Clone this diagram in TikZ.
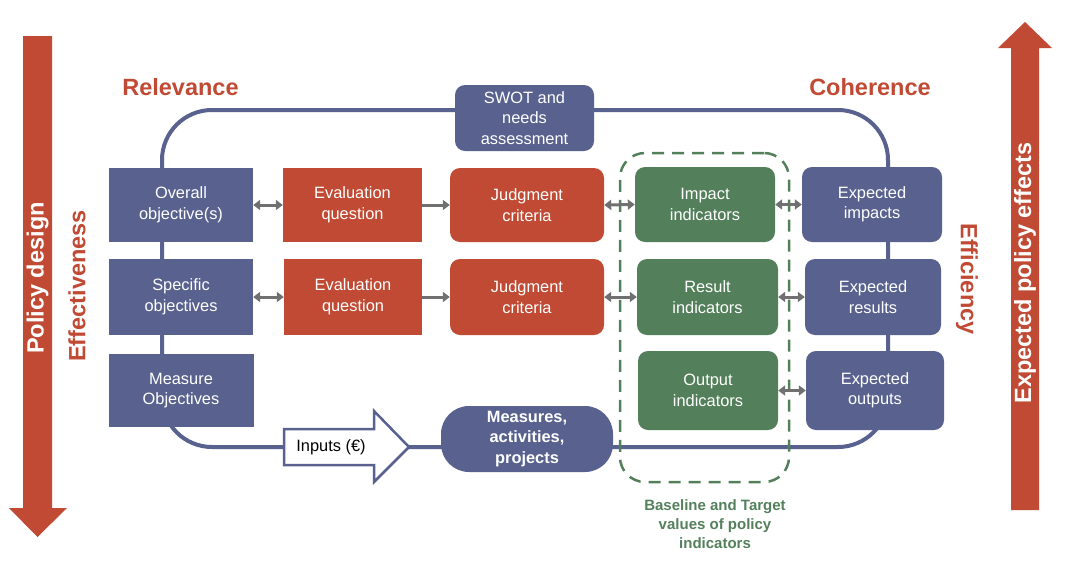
\documentclass[tikz,border=0pt]{standalone}
\usepackage{fontspec}
\setmainfont{Liberation Sans}
\usetikzlibrary{arrows.meta}
\definecolor{cblue}{HTML}{59628F}
\definecolor{cred}{HTML}{C04A33}
\definecolor{cgreen}{HTML}{53805B}
\definecolor{cgray}{HTML}{707070}
\begin{document}
\begin{tikzpicture}[x=1pt,y=-1pt,
  boxtxt/.style={text=white, align=center, inner sep=0pt, font=\fontsize{16.4}{20.5}\selectfont},
  bluesq/.style={boxtxt, fill=cblue},
  redsq/.style={boxtxt, fill=cred},
  bluer/.style={boxtxt, fill=cblue, rounded corners=10pt},
  redr/.style={boxtxt, fill=cred, rounded corners=10pt},
  greenr/.style={boxtxt, fill=cgreen, rounded corners=10pt},
  title/.style={text=cred, font=\fontsize{23.5}{28}\selectfont\bfseries, inner sep=0pt},
  bartitle/.style={text=white, font=\fontsize{23.5}{28}\selectfont\bfseries, inner sep=0pt},
  dbl/.style={draw=cgray, line width=3pt, {Triangle[length=7pt,width=10pt]}-{Triangle[length=7pt,width=10pt]}},
  sgl/.style={draw=cgray, line width=3pt, -{Triangle[length=7pt,width=10pt]}},
  loopline/.style={draw=cblue, line width=4pt, rounded corners=50pt}
]
\useasboundingbox (0,0) rectangle (1076,560);

% big arrows
\fill[cred] (23,36) -- (52,36) -- (52,508) -- (67,508) -- (37.5,537) -- (9,508) -- (23,508) -- cycle;
\fill[cred] (1011,510) -- (1039,510) -- (1039,48) -- (1052,48) -- (1025,22) -- (998,48) -- (1011,48) -- cycle;
\node[bartitle, rotate=90] (pd) at (37.5,278) {Policy design};
\node[bartitle, rotate=90] (epe) at (1025,273) {Expected policy effects};

% titles
\node[title] (rel) at (180.5,87) {Relevance};
\node[title] (coh) at (870,87) {Coherence};
\node[title, rotate=90] (eff) at (77,286) {Effectiveness};
\node[title, rotate=-90] (effi) at (967,279) {Efficiency};

% loop
\coordinate (loopNW) at (162,110);
\coordinate (loopSE) at (888,447);
\draw[loopline] (loopNW) rectangle (loopSE);

% dashed group
\node[draw=cgreen, line width=2.5pt, dash pattern=on 12pt off 8pt, rounded corners=25pt,
      minimum width=169pt, minimum height=329pt, inner sep=0pt] (grp) at (704.5,317.5) {};
\node[text=cgreen, align=center, font=\fontsize{15}{19}\selectfont\bfseries, inner sep=0pt] (base) at (715,524)
  {Baseline and Target\\values of policy\\indicators};

% boxes
\node[bluer, minimum width=139pt, minimum height=66pt] (swot) at (524.5,118) {SWOT and\\needs\\assessment};

\node[bluesq, minimum width=144pt, minimum height=74pt] (ov) at (181,205) {Overall\\objective(s)};
\node[bluesq, minimum width=144pt, minimum height=76pt] (so) at (181,297) {Specific\\objectives};
\node[bluesq, minimum width=145pt, minimum height=73pt] (mo) at (181,390.5) {Measure\\Objectives};

\node[redsq, minimum width=139pt, minimum height=74pt] (eq1) at (352.5,205) {Evaluation\\question};
\node[redsq, minimum width=138pt, minimum height=76pt] (eq2) at (353,297) {Evaluation\\question};

\node[redr, minimum width=154pt, minimum height=74pt] (jc1) at (527,205) {Judgment\\criteria};
\node[redr, minimum width=154pt, minimum height=76pt] (jc2) at (527,297) {Judgment\\criteria};

\node[greenr, minimum width=140pt, minimum height=75pt] (ii) at (705,204.5) {Impact\\indicators};
\node[greenr, minimum width=141pt, minimum height=76pt] (ri) at (707.5,297) {Result\\indicators};
\node[greenr, minimum width=140pt, minimum height=79pt] (oi) at (708,390.5) {Output\\indicators};

\node[bluer, minimum width=140pt, minimum height=75pt] (ei) at (872,204.5) {Expected\\impacts};
\node[bluer, minimum width=136pt, minimum height=76pt] (er) at (873,297) {Expected\\results};
\node[bluer, minimum width=138pt, minimum height=79pt] (eo) at (875,390.5) {Expected\\outputs};

\node[bluer, rounded corners=28pt, minimum width=172pt, minimum height=66pt,
      font=\fontsize{16.4}{20.5}\selectfont\bfseries] (mea) at (527,439) {Measures,\\activities,\\projects};

% inputs arrow
\draw[fill=white, draw=cblue, line width=2.5pt, line join=miter]
  (284,429) -- (374,429) -- (374,411) -- (409,447) -- (374,482) -- (374,465) -- (284,465) -- cycle;
\node[text=black, font=\fontsize{16.4}{20.5}\selectfont, inner sep=0pt] (inp) at (331,447) {Inputs (€)};

% connectors
\draw[dbl] (ov.east) -- (eq1.west);
\draw[sgl] (eq1.east) -- (jc1.west);
\draw[dbl] (jc1.east) -- (ii.west);
\draw[dbl] (ii.east) -- (ei.west);
\draw[dbl] (so.east) -- (eq2.west);
\draw[sgl] (eq2.east) -- (jc2.west);
\draw[dbl] (jc2.east) -- (ri.west);
\draw[dbl] (ri.east) -- (er.west);
\draw[dbl] (oi.east) -- (eo.west);
\end{tikzpicture}
\end{document}
